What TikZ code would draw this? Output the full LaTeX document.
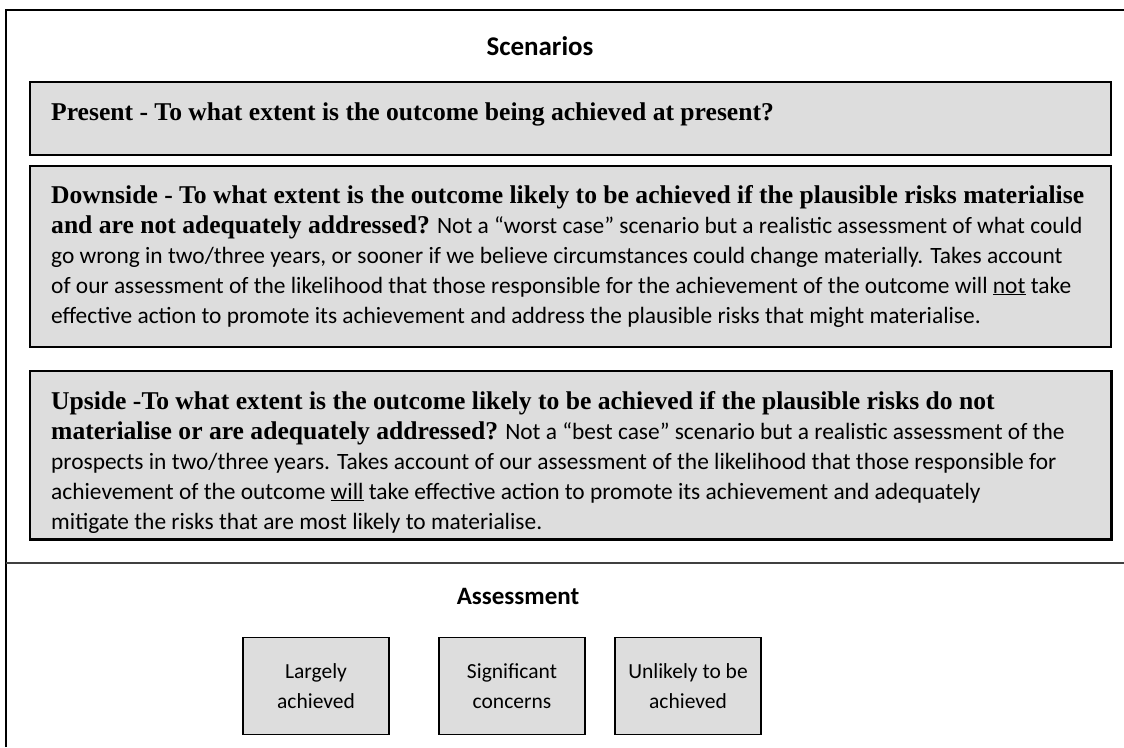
\documentclass[tikz,border=0pt]{standalone}
\usepackage{fontspec}
\setsansfont{Carlito}
\newfontfamily\leadserif{Liberation Serif}
\usepackage{tikz}
\usetikzlibrary{positioning}

\definecolor{boxgray}{HTML}{DDDDDD}
\definecolor{rulegray}{HTML}{404040}
\newcommand{\scenlead}[1]{{\leadserif\bfseries\fontsize{25.6}{30}\selectfont #1}}

\begin{document}
\begin{tikzpicture}[x=1pt, y=-1pt,
        panel/.style={rectangle, draw, line width=1.5pt, fill=boxgray, inner sep=0pt},
        scenario/.style={panel, minimum width=1081pt},
        grade/.style={panel, minimum width=146pt, minimum height=97pt, align=center,
            font=\sffamily\fontsize{21.5}{30}\selectfont},
        heading/.style={inner sep=0pt, anchor=base, font=\sffamily\bfseries\fontsize{25}{28}\selectfont},
        body/.style={inner sep=0pt, anchor=base west, align=left,
            font=\sffamily\fontsize{23.4}{30}\selectfont}
    ]
        \useasboundingbox (0,0) rectangle (1124,747);

        % Frame
        \draw[line width=1.5pt] (6,747) -- (6,10) -- (1124,10);
        \draw[line width=2pt, rulegray] (6,563) -- (1124,563);

        % Scenarios (text nodes sit on the baseline of their last line)
        \node[heading, font=\sffamily\bfseries\fontsize{27}{30}\selectfont] (scenarios) at (540,55) {Scenarios};

        \node[scenario, minimum height=73pt] (present) at (570.5,118.5) {};
        \node[body] (presenttext) at (51,120) {\scenlead{Present - To what extent is the outcome being achieved at present?}};

        \node[scenario, minimum height=181pt] (downside) at (570.5,256.5) {};
        \node[body] (downsidetext) at (51,323) {%
            \scenlead{Downside - To what extent is the outcome likely to be achieved if the plausible risks materialise}\\
            \scenlead{and are not adequately addressed?} Not a “worst case” scenario but a realistic assessment of what could\\
            go wrong in two/three years, or sooner if we believe circumstances could change materially. Takes account\\
            of our assessment of the likelihood that those responsible for the achievement of the outcome will \underline{not} take\\
            effective action to promote its achievement and address the plausible risks that might materialise.};

        \node[scenario, minimum height=168pt] (upside) at (570.5,455) {};
        \begin{scope}
            \clip (upside.south west) rectangle (upside.north east);
            \node[body] (upsidetext) at (51,529) {%
                \scenlead{Upside -To what extent is the outcome likely to be achieved if the plausible risks do not}\\
                \scenlead{materialise or are adequately addressed?} Not a “best case” scenario but a realistic assessment of the\\
                prospects in two/three years. Takes account of our assessment of the likelihood that those responsible for\\
                achievement of the outcome \underline{will} take effective action to promote its achievement and adequately\\
                mitigate the risks that are most likely to materialise.};
        \end{scope}
        \draw[line width=1.5pt] (upside.south west) rectangle (upside.north east);

        % Assessment
        \node[heading] (assessment) at (518,604) {Assessment};
        \node[grade] (largely) at (316,686) {Largely\\achieved};
        \node[grade] (concerns) at (512,686) {Significant\\concerns};
        \node[grade] (unlikely) at (688,686) {Unlikely to be\\achieved};
    \end{tikzpicture}
\end{document}
